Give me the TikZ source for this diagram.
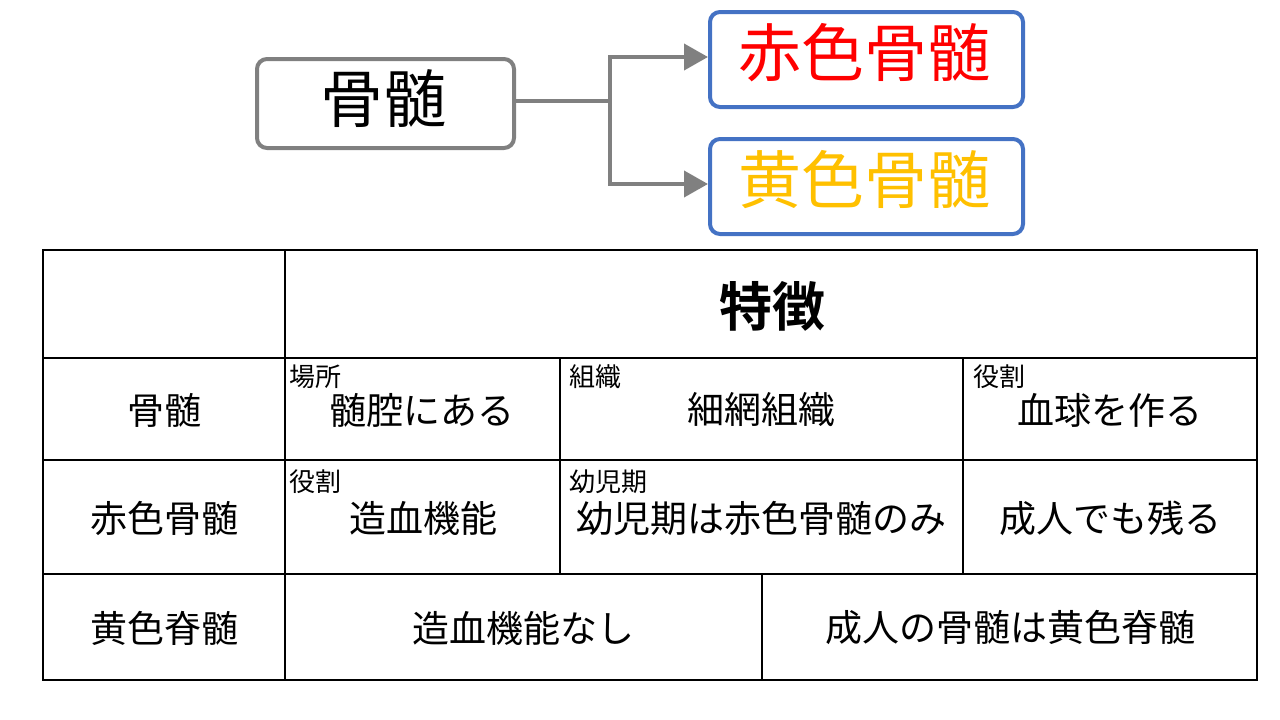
\documentclass[tikz,border=0pt]{standalone}
\usepackage{fontspec}
\setmainfont{Noto Sans CJK JP}
\newfontfamily\jpbold{Noto Sans CJK JP Bold}
\usetikzlibrary{arrows.meta}
\definecolor{cgray}{HTML}{808080}
\definecolor{cblue}{HTML}{4472C4}
\definecolor{cred}{HTML}{FF0000}
\definecolor{cyel}{HTML}{FFC000}
\tikzset{
  topbox/.style={draw, line width=4pt, rounded corners=10pt, inner sep=0pt, anchor=north west},
  conn/.style={draw=cgray, line width=4pt, -{Triangle[length=24pt,width=26pt]}},
  grid/.style={draw=black, line width=1.6pt},
  big/.style={font=\fontsize{37}{40}\selectfont, inner sep=0pt},
  small/.style={font=\fontsize{26}{28}\selectfont, inner sep=0pt, anchor=west},
}
\begin{document}
\begin{tikzpicture}[x=1pt,y=-1pt]
\useasboundingbox (0,0) rectangle (1280,720);
% top diagram
\node[topbox, draw=cgray, minimum width=257pt, minimum height=89pt] (bm) at (255,57) {};
\node[font=\fontsize{63}{66}\selectfont, inner sep=0pt] (bmt) at (383,99) {骨髄};
\node[topbox, draw=cblue, minimum width=313pt, minimum height=95pt] (red) at (708,10) {};
\node[font=\fontsize{63}{66}\selectfont, text=cred, inner sep=0pt] (redt) at (864,53) {赤色骨髄};
\node[topbox, draw=cblue, minimum width=313pt, minimum height=95pt] (yel) at (708,137) {};
\node[font=\fontsize{63}{66}\selectfont, text=cyel, inner sep=0pt] (yelt) at (864,180) {黄色骨髄};
\coordinate (j) at (610,101);
\draw[draw=cgray, line width=4pt] (bm.east |- j) -- (j);
\draw[conn] (j) |- (red.west |- 0,57);
\draw[conn] (j) |- (yel.west |- 0,184);
% table grid
\draw[grid] (43,250) rectangle (1257,680);
\draw[grid] (43,358) -- (1257,358);
\draw[grid] (43,460) -- (1257,460);
\draw[grid] (43,574) -- (1257,574);
\draw[grid] (285,250) -- (285,680);
\draw[grid] (560,358) -- (560,574);
\draw[grid] (963,358) -- (963,574);
\draw[grid] (762,574) -- (762,680);
% header
\node[font=\jpbold\fontsize{53}{56}\selectfont, inner sep=0pt] (hd) at (772,306) {特徴};
% row labels
\node[big] (r1) at (164,410) {骨髄};
\node[big] (r2) at (164,518) {赤色骨髄};
\node[big] (r3) at (164,628) {黄色脊髄};
% row 1
\node[small] (l11) at (289,377) {場所};
\node[big] (c11) at (422,410) {髄腔にある};
\node[small] (l12) at (569,377) {組織};
\node[big] (c12) at (761,410) {細網組織};
\node[small] (l13) at (973,377) {役割};
\node[big] (c13) at (1110,410) {血球を作る};
% row 2
\node[small] (l21) at (289,482) {役割};
\node[big] (c21) at (423,518) {造血機能};
\node[small] (l22) at (569,482) {幼児期};
\node[big] (c22) at (761,518) {幼児期は赤色骨髄のみ};
\node[big] (c23) at (1110,518) {成人でも残る};
% row 3
\node[big] (c31) at (523,628) {造血機能なし};
\node[big] (c32) at (1010,628) {成人の骨髄は黄色脊髄};
\end{tikzpicture}
\end{document}
